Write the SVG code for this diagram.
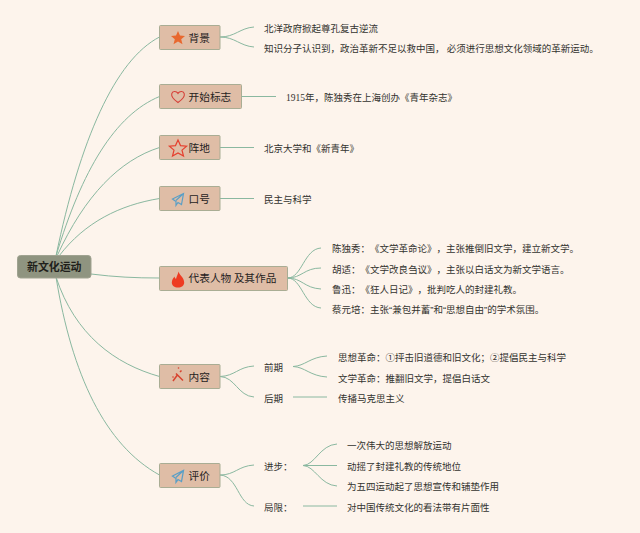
<svg xmlns="http://www.w3.org/2000/svg" width="640" height="533" viewBox="0 0 640 533">
<style>
text{font-family:"Noto Sans CJK SC","Liberation Sans",sans-serif;fill:#33332f;text-spacing-trim:space-all}
.l{font-size:9.5px}
.n{font-size:10.700px;fill:#26221e}
.q{font-family:"Liberation Sans",sans-serif}
.box{fill:#dfbda6;stroke:#a9ad94;stroke-width:1}
.c{fill:none;stroke:#8ab8a0;stroke-width:1}
</style>
<rect width="640" height="533" fill="#fdf4ec"/>
<g id="connectors" class="c">
<path d="M56 256C80 140 115 60 159.500 37"/>
<path d="M56 256C82 170 115 115 159.500 96.500"/>
<path d="M57 256C85 195 120 160 159.500 147.500"/>
<path d="M59 256C85 222 120 205 159.500 198.500"/>
<path d="M91 274C115 277 135 278 159.500 278"/>
<path d="M56 277C75 335 115 364 159.500 376.500"/>
<path d="M56 277C72 375 105 445 159.500 475"/>
<path d="M220 37C235 37 240 28 254 27"/>
<path d="M220 37C235 37 240 46 254 47"/>
<path d="M241.500 96.500H276"/>
<path d="M220 147.500H254"/>
<path d="M220 198.500H254"/>
<path d="M287.500 278C302 278 304 249 321 248"/>
<path d="M287.500 278C302 278 304 268 321 268"/>
<path d="M287.500 278C302 278 304 288 321 289"/>
<path d="M287.500 278C302 278 304 307 321 308"/>
<path d="M220 376.500C235 376 238 367 254 366"/>
<path d="M220 376.500C235 377 238 396 254 397"/>
<path d="M293 366.500C305 366 310 357 327 356"/>
<path d="M293 366.500C305 367 310 376 327 377"/>
<path d="M293 397H327"/>
<path d="M220 475C235 475 238 466 254 465"/>
<path d="M220 475C238 476 238 505 254 506"/>
<path d="M303 465.500C315 465 320 445 337 444"/>
<path d="M303 465.500H337"/>
<path d="M303 465.500C315 466 320 485 337 486"/>
<path d="M303 506H337"/>
</g>
<g id="root"><rect x="17.500" y="255.500" width="73.500" height="22.500" rx="3" fill="#8f9480" stroke="#a0a391"/><text x="27" y="271" font-size="10.900" font-weight="700" style="fill:#1f1f1b">新文化运动</text></g>
<g id="n1"><rect class="box" x="159.500" y="25.500" width="60.500" height="24" rx="1"/><path d="M178 31l2 4.600 5 .4-3.800 3.200 1.300 5-4.500-2.700-4.500 2.700 1.300-5-3.800-3.200 5-.4z" fill="#e8682f"/><text class="n" x="188.500" y="42">背景</text></g>
<g id="n2"><rect class="box" x="159.500" y="84.500" width="82" height="24" rx="1"/><path d="M178 102.500c-5.300-3.800-6.800-6.300-6.300-8.700.6-2.700 4.500-3.200 6.300-.4 1.800-2.800 5.700-2.300 6.300.4.500 2.400-1 4.900-6.300 8.700z" fill="none" stroke="#d6423a" stroke-width="1.100"/><text class="n" x="188.500" y="101">开始标志</text></g>
<g id="n3"><rect class="box" x="159.500" y="135.500" width="60.500" height="24" rx="1"/><path d="M178 140l2.500 5.600 6.100.6-4.600 3.900 1.500 5.900-5.500-3.100-5.500 3.100 1.500-5.900-4.600-3.900 6.100-.6z" fill="none" stroke="#e5402f" stroke-width="1.200"/><text class="n" x="188.500" y="152">阵地</text></g>
<g id="n4"><rect class="box" x="159.500" y="186.500" width="60.500" height="24" rx="1"/><path d="M172.500 199l11-5.500-2 11-3.500-2-2 2.800v-3.800zM175.900 200.500l7.600-7" fill="none" stroke="#5b9fc6" stroke-width="1.200"/><text class="n" x="188.500" y="203">口号</text></g>
<g id="n5"><rect class="box" x="159.500" y="266.500" width="128" height="24" rx="1"/><path d="M178.500 271.500c.3 3 5.700 5.800 5.700 11 0 3-2.700 5-6.200 5s-6.200-2-6.200-5c0-2.700 1.600-4.300 2.700-6 .3 1.400.8 2 1.500 2.400.6-2.600 2-4.600 2.500-7.400z" fill="#ee3b22"/><text class="n" x="188.500" y="282">代表人物 及其作品</text></g>
<g id="n6"><rect class="box" x="159.500" y="364.500" width="60.500" height="24" rx="1"/><path d="M173 381l4-5.500M176 373.500l7 7M180 372l1.500-1.500" fill="none" stroke="#d8432f" stroke-width="1.500"/><circle cx="173" cy="377" r=".8" fill="#d8432f"/><circle cx="178.500" cy="368" r=".8" fill="#d8432f"/><text class="n" x="188.500" y="381">内容</text></g>
<g id="n7"><rect class="box" x="159.500" y="463.500" width="60.500" height="24" rx="1"/><path d="M172.500 476l11-5.500-2 11-3.500-2-2 2.800v-3.800zM175.900 477.500l7.600-7" fill="none" stroke="#5b9fc6" stroke-width="1.300"/><text class="n" x="188.500" y="480">评价</text></g>
<g id="leaves">
<text class="l" x="264" y="31.500">北洋政府掀起尊孔复古逆流</text>
<text class="l" x="264" y="51.500">知识分子认识到，政治革新不足以救中国， 必须进行思想文化领域的革新运动。</text>
<text class="l" x="286" y="101" style="font-family:'Liberation Serif','Noto Sans CJK SC',serif">1915年，陈独秀在上海创办《青年杂志》</text>
<text class="l" x="264" y="152">北京大学和《新青年》</text>
<text class="l" x="264" y="203">民主与科学</text>
<text class="l" x="332" y="252">陈独秀：《文学革命论》，主张推倒旧文学，建立新文学。</text>
<text class="l" x="332" y="272.500">胡适：《文学改良刍议》，主张以白话文为新文学语言。</text>
<text class="l" x="332" y="293">鲁迅：《狂人日记》，批判吃人的封建礼教。</text>
<text class="l" x="332" y="313">蔡元培：主张<tspan class="q">“</tspan>兼包并蓄<tspan class="q">”</tspan>和<tspan class="q">“</tspan>思想自由<tspan class="q">”</tspan>的学术氛围。</text>
<text class="l" x="264" y="371">前期</text>
<text class="l" x="264" y="401.500">后期</text>
<text class="l" x="338" y="361">思想革命：①抨击旧道德和旧文化；②提倡民主与科学</text>
<text class="l" x="338" y="381.500">文学革命：推翻旧文学，提倡白话文</text>
<text class="l" x="338" y="401.500">传播马克思主义</text>
<text class="l" x="264" y="469.500">进步：</text>
<text class="l" x="264" y="510.500">局限：</text>
<text class="l" x="347" y="449">一次伟大的思想解放运动</text>
<text class="l" x="347" y="469.500">动摇了封建礼教的传统地位</text>
<text class="l" x="347" y="490">为五四运动起了思想宣传和铺垫作用</text>
<text class="l" x="347" y="510.500">对中国传统文化的看法带有片面性</text>
</g>
</svg>
